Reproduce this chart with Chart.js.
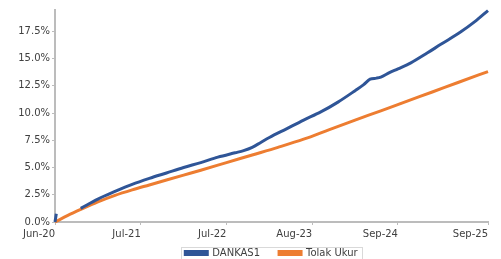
<!DOCTYPE html>
<html><head><meta charset="utf-8">
<script src="https://cdn.jsdelivr.net/npm/chart.js@4/dist/chart.umd.min.js"></script>
<style>html,body{margin:0;padding:0;background:#fff;}#wrap{width:501px;height:259px;position:relative;}</style>
</head><body><div id="wrap"><canvas id="c" width="501" height="259"></canvas></div>
<script>
const tickIdx = [0, 20, 40, 60, 80, 101];
const tickLabels = ['Jun-20', 'Jul-21', 'Jul-22', 'Aug-23', 'Sep-24', 'Sep-25'];
const yTicks = [0, 2.5, 5, 7.5, 10, 12.5, 15, 17.5];

const dankasIdx = [0, 0.3, 1, 6, 10, 14, 18, 22, 26, 30, 34, 38, 42, 44, 46, 48, 50, 54, 58, 62, 66, 70, 72, 73.5, 75, 76, 78, 80, 83, 86.8, 90, 94.5, 98, 101];
const dankasVals = [0, 0.75, null, 1.25, 2.1, 2.8, 3.45, 4.0, 4.5, 5.0, 5.45, 5.95, 6.35, 6.55, 6.85, 7.3, 7.75, 8.55, 9.35, 10.1, 11.0, 12.05, 12.6, 13.1, 13.2, 13.3, 13.7, 14.05, 14.6, 15.5, 16.3, 17.4, 18.4, 19.4];

const tolakIdx = [0, 3, 6, 10, 14, 18, 22, 26, 30, 34, 40, 46, 52, 58, 64, 70, 76, 82, 88, 94, 101];
const tolakVals = [0, 0.6, 1.15, 1.85, 2.45, 2.95, 3.4, 3.85, 4.3, 4.75, 5.45, 6.15, 6.85, 7.6, 8.48, 9.35, 10.2, 11.07, 11.93, 12.8, 13.8];

const FONT = 'DejaVu Sans';
const AXIS = '#bcbcbc';

const legendMove = {
  id: 'legendMove',
  afterLayout(chart) {
    const lg = chart.legend;
    lg.top = 229;
    lg.bottom = 275;
    lg.height = lg.bottom - lg.top;
  },
  afterDraw(chart) {
    const hb = chart.legend.legendHitBoxes;
    if (!hb || !hb.length) return;
    const ctx = chart.ctx;
    const left = hb[0].left - 4;
    const last = hb[hb.length - 1];
    const right = last.left + last.width + 5;
    const top = hb[0].top - 1;
    ctx.save();
    ctx.strokeStyle = '#d9d9d9';
    ctx.lineWidth = 1;
    ctx.strokeRect(Math.round(left) + 0.5, Math.round(top) + 0.5, Math.round(right - left), 30);
    ctx.restore();
  }
};

new Chart(document.getElementById('c'), {
  type: 'line',
  data: {
    datasets: [
      {
        label: 'DANKAS1',
        data: dankasIdx.map((x, i) => ({x: x, y: dankasVals[i]})),
        borderColor: '#2F5597',
        backgroundColor: '#2F5597',
        borderWidth: 3,
        pointRadius: 0,
        cubicInterpolationMode: 'monotone',
        spanGaps: false,
        clip: false
      },
      {
        label: 'Tolak Ukur',
        data: tolakIdx.map((x, i) => ({x: x, y: tolakVals[i]})),
        borderColor: '#ED7D31',
        backgroundColor: '#ED7D31',
        borderWidth: 3,
        pointRadius: 0,
        cubicInterpolationMode: 'monotone',
        clip: false
      }
    ]
  },
  options: {
    responsive: false,
    animation: false,
    events: [],
    layout: {padding: {top: 10, right: 13, left: 0, bottom: 0}},
    scales: {
      x: {
        type: 'linear',
        min: 0,
        max: 101,
        afterBuildTicks(scale) { scale.ticks = tickIdx.map(v => ({value: v})); },
        afterFit(scale) { scale.height = 20; scale.paddingRight = 0; scale.paddingLeft = 0; },
        ticks: {
          autoSkip: false,
          maxRotation: 0,
          align: 'end',
          padding: 3,
          color: '#404040',
          font: {family: FONT, size: 10},
          callback(v) { const i = tickIdx.indexOf(v); return i >= 0 ? tickLabels[i] : ''; }
        },
        grid: {drawOnChartArea: false, color: AXIS, tickLength: 3, lineWidth: 1},
        border: {color: AXIS, width: 2}
      },
      y: {
        min: 0,
        max: 19.45,
        afterBuildTicks(scale) { scale.ticks = yTicks.map(v => ({value: v})); },
        afterFit(scale) { scale.width = 55; },
        ticks: {
          padding: 2,
          color: '#404040',
          font: {family: FONT, size: 10},
          callback(v) { return v.toFixed(1) + '%'; }
        },
        grid: {drawOnChartArea: false, color: AXIS, tickLength: 3, lineWidth: 1},
        border: {color: AXIS, width: 2}
      }
    },
    plugins: {
      legend: {
        position: 'bottom',
        fullSize: false,
        maxHeight: 17,
        labels: {
          boxWidth: 22,
          boxHeight: 3,
          padding: 19,
          color: '#404040',
          font: {family: FONT, size: 10}
        }
      },
      tooltip: {enabled: false}
    }
  },
  plugins: [legendMove]
});
</script>
</body></html>
